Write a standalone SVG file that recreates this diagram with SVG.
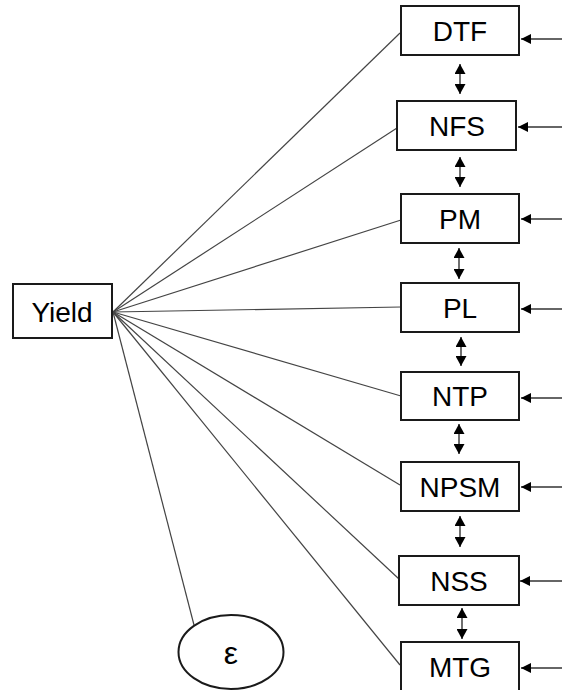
<svg xmlns="http://www.w3.org/2000/svg" width="562" height="690" viewBox="0 0 562 690">
<style>
.box{fill:#fff;stroke:#1a1a1a;stroke-width:2}
.lbl{font-family:"Liberation Sans",Arial,sans-serif;font-size:28px;fill:#000;text-anchor:middle}
.ln{stroke:#444;stroke-width:1.2;fill:none}
.ar{stroke:#333;stroke-width:1.4;fill:none}
</style>
<defs>
<marker id="ah" viewBox="0 0 10 10" refX="10" refY="5" markerWidth="10" markerHeight="10" markerUnits="userSpaceOnUse" orient="auto-start-reverse">
<path d="M0,0 L10,5 L0,10 Z" fill="#000"/>
</marker>
<marker id="dh" viewBox="0 0 10 11" refX="10" refY="5.5" markerWidth="10" markerHeight="11" markerUnits="userSpaceOnUse" orient="auto-start-reverse">
<path d="M0,0 L10,5.5 L0,11 Z" fill="#000"/>
</marker>
</defs>
<rect width="562" height="690" fill="#fff"/>
<g id="connectors">
<line class="ln" x1="113" y1="312" x2="400" y2="33"/>
<line class="ln" x1="113" y1="312" x2="397" y2="128"/>
<line class="ln" x1="113" y1="312" x2="401" y2="220"/>
<line class="ln" x1="113" y1="312" x2="401" y2="307"/>
<line class="ln" x1="113" y1="312" x2="401" y2="396"/>
<line class="ln" x1="113" y1="312" x2="400" y2="485"/>
<line class="ln" x1="113" y1="312" x2="399" y2="579"/>
<line class="ln" x1="113" y1="312" x2="400" y2="665"/>
<line class="ln" x1="113" y1="312" x2="194" y2="625"/>
<line class="ar" x1="562" y1="39" x2="521" y2="39" marker-end="url(#ah)"/>
<line class="ar" x1="562" y1="127" x2="518" y2="127" marker-end="url(#ah)"/>
<line class="ar" x1="562" y1="219" x2="521" y2="219" marker-end="url(#ah)"/>
<line class="ar" x1="562" y1="309" x2="521" y2="309" marker-end="url(#ah)"/>
<line class="ar" x1="562" y1="398" x2="521" y2="398" marker-end="url(#ah)"/>
<line class="ar" x1="562" y1="487" x2="521" y2="487" marker-end="url(#ah)"/>
<line class="ar" x1="562" y1="581" x2="520" y2="581" marker-end="url(#ah)"/>
<line class="ar" x1="562" y1="668" x2="521" y2="668" marker-end="url(#ah)"/>
<line class="ar" x1="460" y1="64" x2="460" y2="94" marker-start="url(#dh)" marker-end="url(#dh)"/>
<line class="ar" x1="460" y1="157" x2="460" y2="187" marker-start="url(#dh)" marker-end="url(#dh)"/>
<line class="ar" x1="459" y1="248" x2="459" y2="279" marker-start="url(#dh)" marker-end="url(#dh)"/>
<line class="ar" x1="461" y1="337" x2="461" y2="366" marker-start="url(#dh)" marker-end="url(#dh)"/>
<line class="ar" x1="459" y1="424" x2="459" y2="454" marker-start="url(#dh)" marker-end="url(#dh)"/>
<line class="ar" x1="460" y1="516" x2="460" y2="547" marker-start="url(#dh)" marker-end="url(#dh)"/>
<line class="ar" x1="462" y1="608" x2="462" y2="639" marker-start="url(#dh)" marker-end="url(#dh)"/>
</g>
<g id="yield"><rect class="box" x="13" y="284" width="99" height="54"/><text class="lbl" x="62" y="322">Yield</text></g>
<g id="dtf"><rect class="box" x="401" y="6" width="118" height="49"/><text class="lbl" x="460" y="41">DTF</text></g>
<g id="nfs"><rect class="box" x="397" y="101" width="119" height="49"/><text class="lbl" x="457" y="136">NFS</text></g>
<g id="pm"><rect class="box" x="401" y="194" width="118" height="49"/><text class="lbl" x="460" y="229">PM</text></g>
<g id="pl"><rect class="box" x="401" y="283" width="118" height="49"/><text class="lbl" x="460" y="318">PL</text></g>
<g id="ntp"><rect class="box" x="401" y="372" width="118" height="48"/><text class="lbl" x="460" y="406">NTP</text></g>
<g id="npsm"><rect class="box" x="401" y="462" width="118" height="49"/><text class="lbl" x="460" y="497">NPSM</text></g>
<g id="nss"><rect class="box" x="399" y="556" width="120" height="49"/><text class="lbl" x="459" y="591">NSS</text></g>
<g id="mtg"><rect class="box" x="401" y="642" width="118" height="50"/><text class="lbl" x="460" y="677">MTG</text></g>
<g id="epsilon"><ellipse class="box" cx="231" cy="652" rx="52.5" ry="37"/><text class="lbl" x="231" y="664" style="font-size:32px">ε</text></g>
</svg>
